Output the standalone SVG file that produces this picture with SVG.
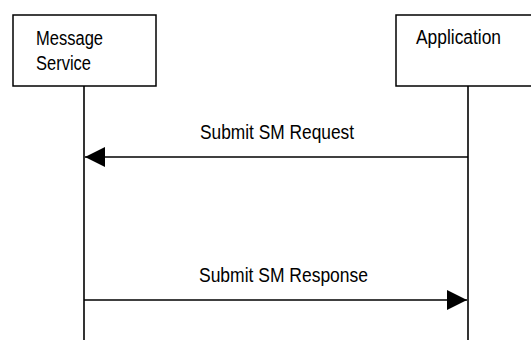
<svg xmlns="http://www.w3.org/2000/svg" width="531" height="340" viewBox="0 0 531 340">
<style>
.box{fill:#fff;stroke:#000;stroke-width:1.5}
.life{stroke:#000;stroke-width:1.6;fill:none}
.msg{stroke:#000;stroke-width:1.6;fill:none}
text{font-family:"Liberation Sans",Arial,sans-serif;font-size:20px;fill:#000}
</style>
<defs>
<marker id="ah" markerWidth="20" markerHeight="20" refX="20" refY="10" orient="auto" markerUnits="userSpaceOnUse">
<path d="M0,0 L20,10 L0,20 Z" fill="#000"/>
</marker>
</defs>
<g id="ms">
<rect class="box" x="13" y="15" width="143" height="71"/>
<text x="36" y="45" textLength="67" lengthAdjust="spacingAndGlyphs">Message</text>
<text x="36" y="70" textLength="55" lengthAdjust="spacingAndGlyphs">Service</text>
<line class="life" x1="84" y1="86" x2="84" y2="340"/>
</g>
<g id="app">
<rect class="box" x="396" y="15" width="144" height="71"/>
<text x="416" y="44" textLength="85" lengthAdjust="spacingAndGlyphs">Application</text>
<line class="life" x1="468" y1="86" x2="468" y2="340"/>
</g>
<g id="connectors">
<line class="msg" x1="468" y1="157" x2="85" y2="157" marker-end="url(#ah)"/>
<text x="200" y="139" textLength="154" lengthAdjust="spacingAndGlyphs">Submit SM Request</text>
<line class="msg" x1="84" y1="300" x2="467" y2="300" marker-end="url(#ah)"/>
<text x="199" y="282" textLength="169" lengthAdjust="spacingAndGlyphs">Submit SM Response</text>
</g>
</svg>
